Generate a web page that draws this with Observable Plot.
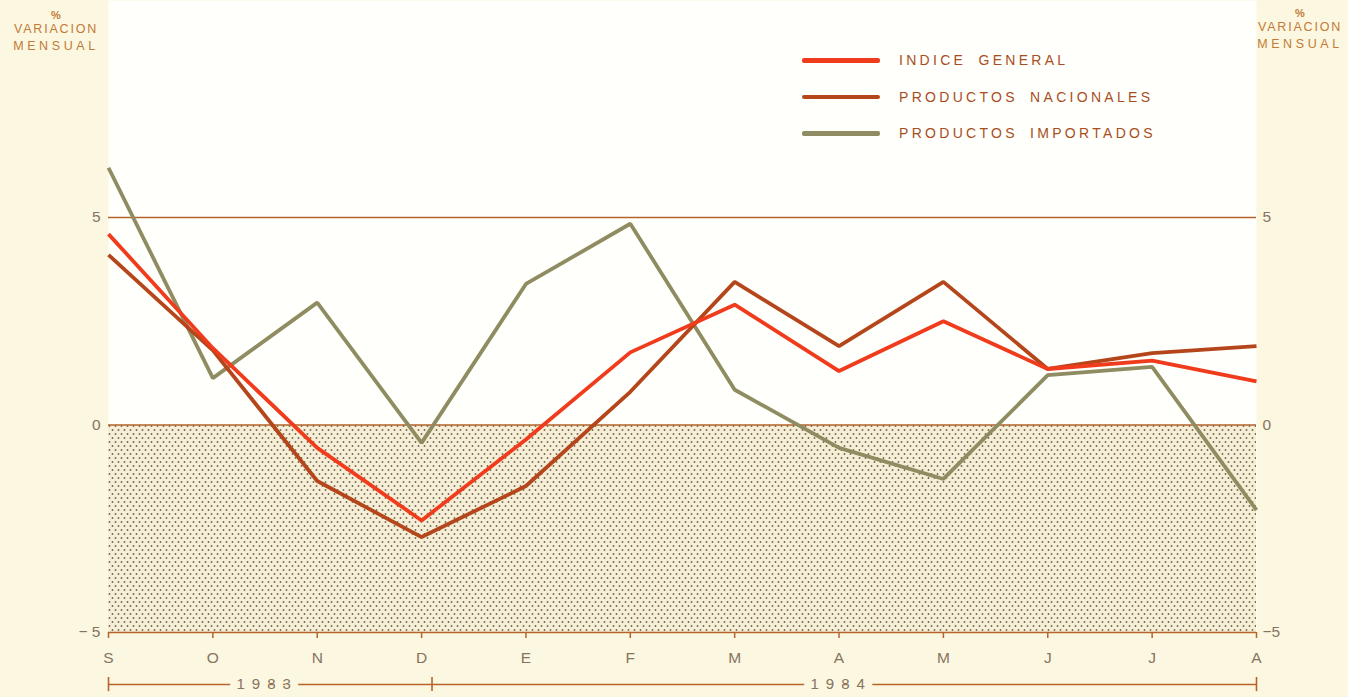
<!DOCTYPE html>
<html>
<head>
<meta charset="utf-8">
<script src="https://cdn.jsdelivr.net/npm/d3@7"></script>
<script src="https://cdn.jsdelivr.net/npm/@observablehq/plot@0.6"></script>
<style>
  html, body { margin: 0; padding: 0; background: #fcf7e1; }
  body { font-family: "Liberation Sans", Arial, sans-serif; }
  #wrap { position: relative; width: 1348px; height: 697px; overflow: hidden; }
  #chart { position: absolute; left: 0; top: 0; }
  #chart svg text { font-size: 15.5px; font-family: "Liberation Sans Narrow", "Liberation Sans", Arial, sans-serif; }
  #chart svg .yearlab text { letter-spacing: 7px; font-size: 15px; }
  .ytitle { position: absolute; color: #c27a36; font-size: 12.5px; line-height: 17px; text-align: center; width: 104px; }
  .ytitle .pct { font-size: 11px; line-height: 12px; font-weight: bold; }
  .ytitle .l1 { letter-spacing: 1.8px; }
  .ytitle .l2 { letter-spacing: 3.6px; }
  .legend { position: absolute; left: 802px; top: 42px; }
  .legend .row { display: flex; align-items: center; height: 36.5px; }
  .legend .sw { width: 78px; height: 4.5px; border-radius: 2px; margin-right: 19px; }
  .legend .lab { font-size: 14px; letter-spacing: 3.3px; word-spacing: 5px; color: #a84e1e; white-space: nowrap; }
</style>
</head>
<body>
<svg width="0" height="0" style="position:absolute">
  <defs>
    <pattern id="dots" width="6" height="8" patternUnits="userSpaceOnUse">
      <circle cx="1.5" cy="2" r="0.95" fill="#6f675c"/>
      <circle cx="4.5" cy="6" r="0.95" fill="#6f675c"/>
    </pattern>
  </defs>
</svg>
<div id="wrap">
  <div id="chart"></div>
  <div class="ytitle" style="left:4px; top:9px;"><div class="pct">%</div><div class="l1">VARIACION</div><div class="l2">MENSUAL</div></div>
  <div class="ytitle" style="left:1248px; top:7px;"><div class="pct">%</div><div class="l1">VARIACION</div><div class="l2">MENSUAL</div></div>
  <div class="legend" id="legend"></div>
</div>
<script>
// ---- data ----
const months = ["S", "O", "N", "D", "E", "F", "M", "A", "M", "J", "J", "A"];
const indiceGeneral       = [4.6, 1.85, -0.55, -2.3, -0.35, 1.75, 2.9, 1.3, 2.5, 1.35, 1.55, 1.05];
const productosNacionales = [4.1, 1.8, -1.35, -2.7, -1.47, 0.8, 3.45, 1.9, 3.45, 1.35, 1.73, 1.9];
const productosImportados = [6.2, 1.13, 2.95, -0.43, 3.4, 4.85, 0.85, -0.55, -1.3, 1.2, 1.4, -2.05];
const seriesNames = ["INDICE GENERAL", "PRODUCTOS NACIONALES", "PRODUCTOS IMPORTADOS"];
const seriesColors = ["#f03b1d", "#b5461b", "#8f8c62"];
const yTicks = [-5, 0, 5];
const yearLabels = ["1983", "1984"];
const yearLabelPos = [1.52, 7.02];   // month index where each year label sits
const yearBreaks = [0, 3.1, 11];      // month index of the year-bar end marks

// ---- build table ----
const valuesBySeries = [indiceGeneral, productosNacionales, productosImportados];
const drawOrder = [2, 1, 0];
const rows = [];
for (const s of drawOrder) {
  valuesBySeries[s].forEach((v, i) => rows.push({ i, value: v, series: seriesNames[s] }));
}
const years = yearLabels.map((label, k) => ({ label, x: yearLabelPos[k] }));
const idx = d3.range(months.length);

const axisColor = "#b5642c";
const labelColor = "#857460";
const bg = "#fcf7e1";

const chart = Plot.plot({
  width: 1348,
  height: 697,
  marginLeft: 108,
  marginRight: 92,
  marginTop: 0,
  marginBottom: 65,
  style: { background: "transparent", fontFamily: "'Liberation Sans', Arial, sans-serif", overflow: "visible" },
  x: { type: "linear", domain: [0, months.length - 1] },
  y: { domain: [-5, 10.23] },
  color: { domain: seriesNames, range: seriesColors },
  marks: [
    Plot.frame({ fill: "#fffffb", stroke: null }),
    Plot.rect([{ a: 0, b: months.length - 1, lo: -5, hi: 0 }], { x1: "a", x2: "b", y1: "lo", y2: "hi", fill: "#f7eed6" }),
    Plot.rect([{ a: 0, b: months.length - 1, lo: -5, hi: 0 }], { x1: "a", x2: "b", y1: "lo", y2: "hi", fill: "url(#dots)" }),
    Plot.ruleY(yTicks, { stroke: axisColor, strokeWidth: 1.6 }),
    // month ticks
    Plot.axisX(idx, { tickSize: 6, tickFormat: () => "", stroke: axisColor, strokeWidth: 1.5, label: null }),
    Plot.axisX(idx, { tickSize: 0, tickPadding: 19, tickFormat: i => months[i], fill: labelColor, label: null }),
    Plot.axisY(yTicks, { anchor: "left", tickSize: 0, tickPadding: 8, tickFormat: d => d < 0 ? "− 5" : String(d), fill: labelColor, label: null }),
    Plot.axisY(yTicks, { anchor: "right", tickSize: 0, tickPadding: 6, tickFormat: d => d < 0 ? "−5" : String(d), fill: labelColor, label: null }),
    // year bar
    Plot.ruleY([-5], { x1: 0, x2: months.length - 1, dy: 52, stroke: axisColor, strokeWidth: 1.6 }),
    Plot.ruleX(yearBreaks, { y1: -5, y2: -5.34, dy: 45, stroke: axisColor, strokeWidth: 1.6 }),
    Plot.text(years, { x: "x", y: -5, dy: 52, text: "label", fill: labelColor, stroke: bg, strokeWidth: 16, paintOrder: "stroke", className: "yearlab" }),
    // series
    Plot.line(rows, { x: "i", y: "value", z: "series", stroke: "series", strokeWidth: 3.8, strokeLinejoin: "miter", strokeLinecap: "butt" })
  ]
});
document.getElementById("chart").appendChild(chart);

// legend (HTML)
const legend = document.getElementById("legend");
seriesNames.forEach((name, k) => {
  const row = document.createElement("div");
  row.className = "row";
  const sw = document.createElement("div");
  sw.className = "sw";
  sw.style.background = seriesColors[k];
  const lab = document.createElement("div");
  lab.className = "lab";
  lab.textContent = name;
  row.appendChild(sw);
  row.appendChild(lab);
  legend.appendChild(row);
});
</script>
</body>
</html>
